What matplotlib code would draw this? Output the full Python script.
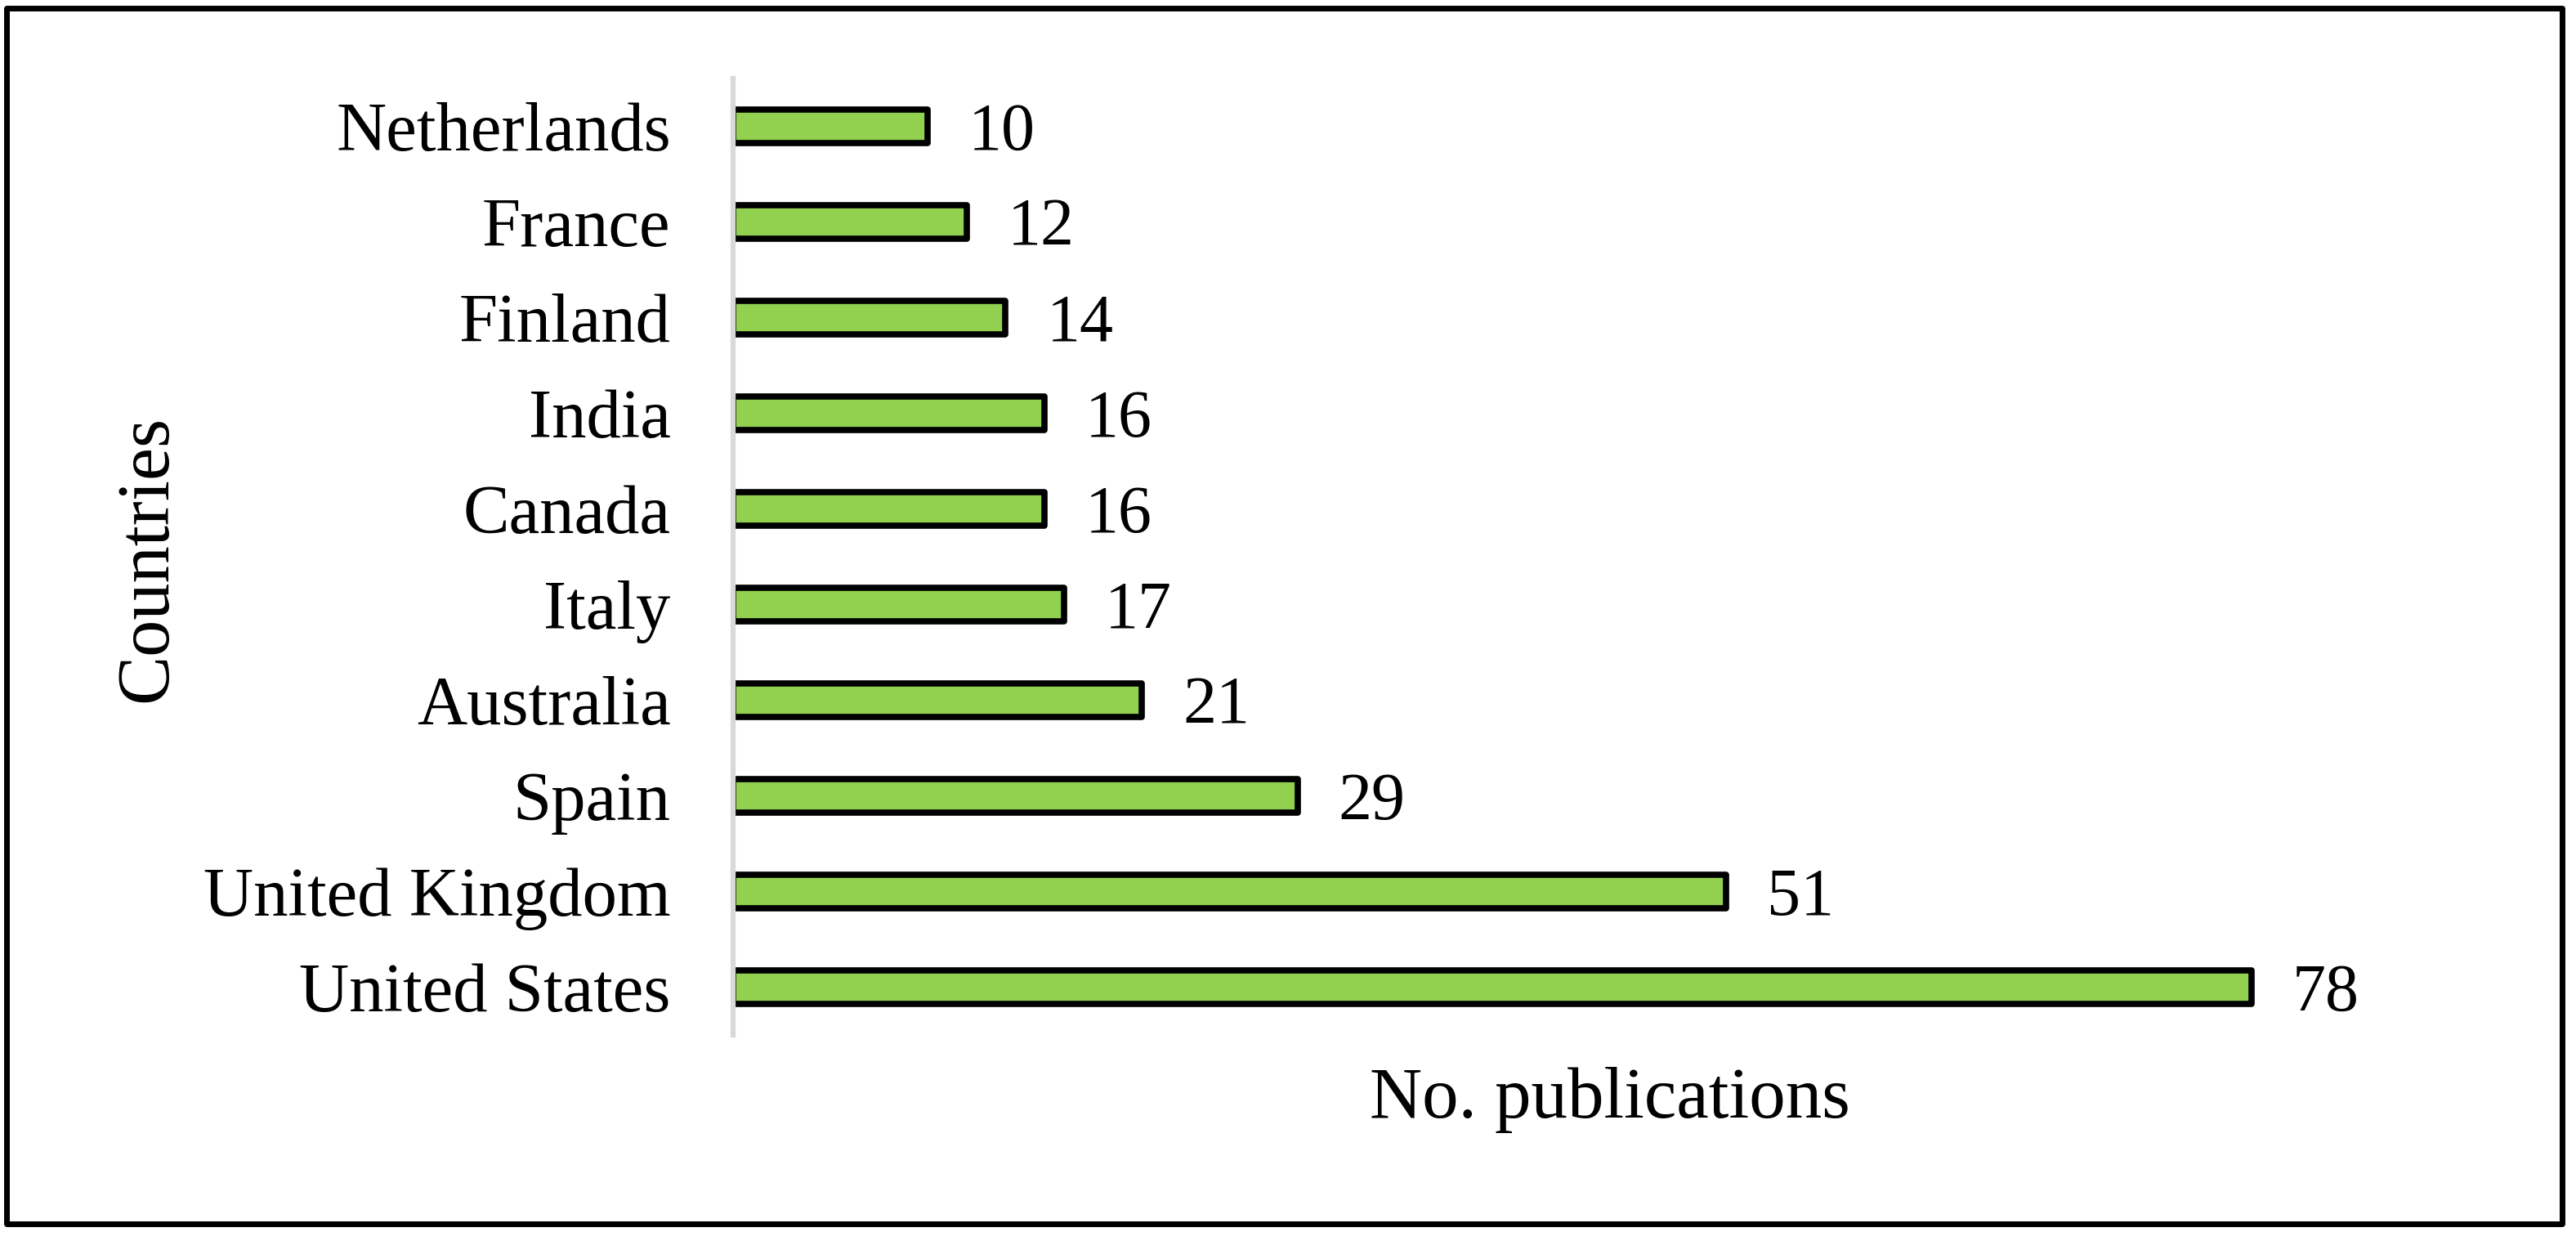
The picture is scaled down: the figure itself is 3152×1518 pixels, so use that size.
import matplotlib.pyplot as plt
from matplotlib.patches import Rectangle

# データ
countries = ['United States', 'United Kingdom', 'Spain', 'Australia', 'Italy',
             'Canada', 'India', 'Finland', 'France', 'Netherlands']
publications = [78, 51, 29, 21, 17, 16, 16, 14, 12, 10]

plt.rcParams['font.family'] = ['Liberation Serif', 'DejaVu Serif']

fig = plt.figure(figsize=(31.52, 15.18), dpi=100)
ax = fig.add_axes([0.2846, 0.166, 0.68, 0.7708])

# 棒グラフ
ypos = range(len(countries))
bars = ax.barh(ypos, publications, height=0.35, color='#92D050',
               edgecolor='black', linewidth=5.5, zorder=2)
for b in bars:
    b.set_joinstyle('round')

# 値ラベル
for y, v in zip(ypos, publications):
    ax.annotate(str(v), xy=(v, y), xytext=(36, -6), textcoords='offset points',
                ha='left', va='center', fontsize=59)

ax.set_xlim(0, 90)
ax.set_ylim(-0.5, 9.5)
ax.set_yticks(list(ypos))
ax.set_yticklabels(countries, fontsize=61)
ax.set_xticks([])
ax.tick_params(axis='y', length=0, pad=55)

for s in ['top', 'right', 'bottom']:
    ax.spines[s].set_visible(False)
ax.spines['left'].set_color('#D9D9D9')
ax.spines['left'].set_linewidth(4.5)
ax.spines['left'].set_zorder(3)

# 軸タイトル
fig.text(0.0574, 0.55, 'Countries', rotation=90, ha='center', va='center', fontsize=65)
fig.text(0.625, 0.0995, 'No. publications', ha='center', va='baseline', fontsize=64)

# 外枠
fig.patches.append(Rectangle((0.0025, 0.0138), 0.9921, 0.9796, transform=fig.transFigure,
                             fill=False, edgecolor='black', linewidth=5, joinstyle='round'))

fig.savefig('out.png', dpi=100)
